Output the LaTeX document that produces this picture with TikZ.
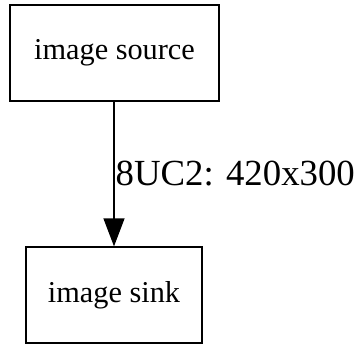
\documentclass[tikz,border=0pt]{standalone}
\usepackage{fontspec}
\setmainfont{Liberation Serif}
\usetikzlibrary{arrows.meta}
\tikzset{
  box/.style={draw=black, line width=1.3pt, rectangle, inner sep=0pt, minimum height=96pt,
    font=\fontsize{30.3}{34}\selectfont},
  edge/.style={draw=black, line width=1.3pt, -{Triangle[length=28pt,width=21pt]}},
  lbl/.style={inner sep=0pt, anchor=west, xshift=1pt, font=\fontsize{36.8}{40}\selectfont}
}
\begin{document}
\begin{tikzpicture}[x=1pt,y=-1pt]
\useasboundingbox (0,0) rectangle (355,346);
\node[box, minimum width=209pt] (src) at (114.5,53) {image source};
\node[box, minimum width=176pt] (snk) at (114,295) {image sink};
\draw[edge] (src.south -| 114,0) -- node[lbl] {8UC2: 420x300} (snk.north);
\end{tikzpicture}
\end{document}
